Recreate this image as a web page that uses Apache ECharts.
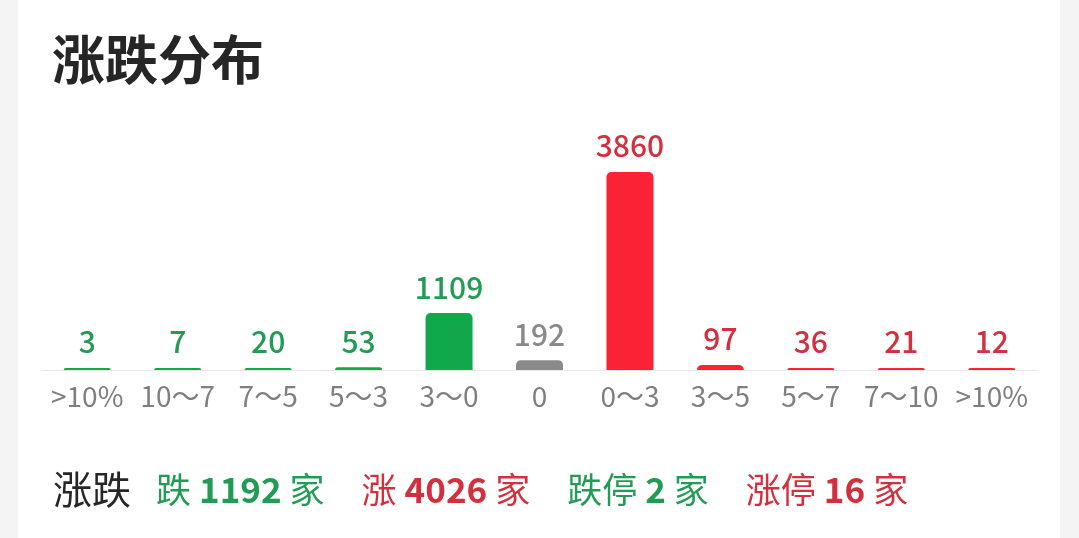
<!DOCTYPE html>
<html><head><meta charset="utf-8">
<script src="https://cdn.jsdelivr.net/npm/echarts@6/dist/echarts.min.js"></script>
<style>html,body{margin:0;padding:0;background:#f4f4f4;}#c{width:1079px;height:538px;}</style>
</head><body><div id="c"></div>
<script>
const categories = ['>10%','10～7','7～5','5～3','3～0','0','0～3','3～5','5～7','7～10','>10%'];
const counts = [3, 7, 20, 53, 1109, 192, 3860, 97, 36, 21, 12];
const groups = ['down','down','down','down','down','flat','up','up','up','up','up'];
const summaryLabels = ['跌','涨','跌停','涨停'];
const summaryValues = [1192, 4026, 2, 16];
const summaryGroups = ['down','up','down','up'];

const barColor = {down:'#10a84b', flat:'#8a8a8a', up:'#fc2236'};
const textColor = {down:'#229c55', flat:'#8a8a8a', up:'#d3303f'};
const FONT = '"Noto Sans CJK SC","Noto Sans",sans-serif';

const data = counts.map((v,i)=>({
  value: v,
  itemStyle: {color: barColor[groups[i]]},
  label: {color: textColor[groups[i]]}
}));

const rich = {k:{fontSize:39,color:'#262626',fontFamily:FONT,fontWeight:'normal',padding:[0,25,0,0]}};
const parts = ['{k|涨跌}'];
summaryLabels.forEach((l,i)=>{
  const g = summaryGroups[i];
  rich['a'+i] = {fontSize:35,color:textColor[g],fontFamily:FONT,fontWeight:'normal'};
  rich['n'+i] = {fontSize:35,color:textColor[g],fontFamily:FONT,fontWeight:'bold',padding:[0,8,0,8]};
  rich['u'+i] = {fontSize:35,color:textColor[g],fontFamily:FONT,fontWeight:'normal',padding:[0,37,0,0]};
  parts.push('{a'+i+'|'+l+'}{n'+i+'|'+summaryValues[i]+'}{u'+i+'|家}');
});

const chart = echarts.init(document.getElementById('c'));
chart.setOption({
  backgroundColor:'#f4f4f4',
  graphic:[{type:'rect',shape:{x:18,y:-30,width:1042,height:600,r:22},style:{fill:'#ffffff'},z:-10}],
  title:[
    {text:'涨跌分布',left:47,top:28,textStyle:{fontSize:53,fontWeight:'bold',color:'#262626',fontFamily:FONT}},
    {text:parts.join(''),left:48,top:465,textStyle:{fontWeight:'normal',rich:rich}}
  ],
  grid:{left:42,right:42,top:172,bottom:168},
  xAxis:{type:'category',data:categories,
    axisLine:{lineStyle:{color:'#e8e8e8',width:1}},axisTick:{show:false},
    axisLabel:{color:'#7f7f7f',fontSize:28,fontFamily:FONT,margin:12,interval:0}},
  yAxis:{type:'value',min:0,max:'dataMax',show:false,splitLine:{show:false}},
  series:[{type:'bar',data:data,barWidth:47,barMinHeight:2,
    itemStyle:{borderRadius:[5,5,0,0]},
    label:{show:true,position:'top',distance:11,fontSize:30,fontFamily:FONT,fontWeight:500},
    animation:false}]
});
</script></body></html>
